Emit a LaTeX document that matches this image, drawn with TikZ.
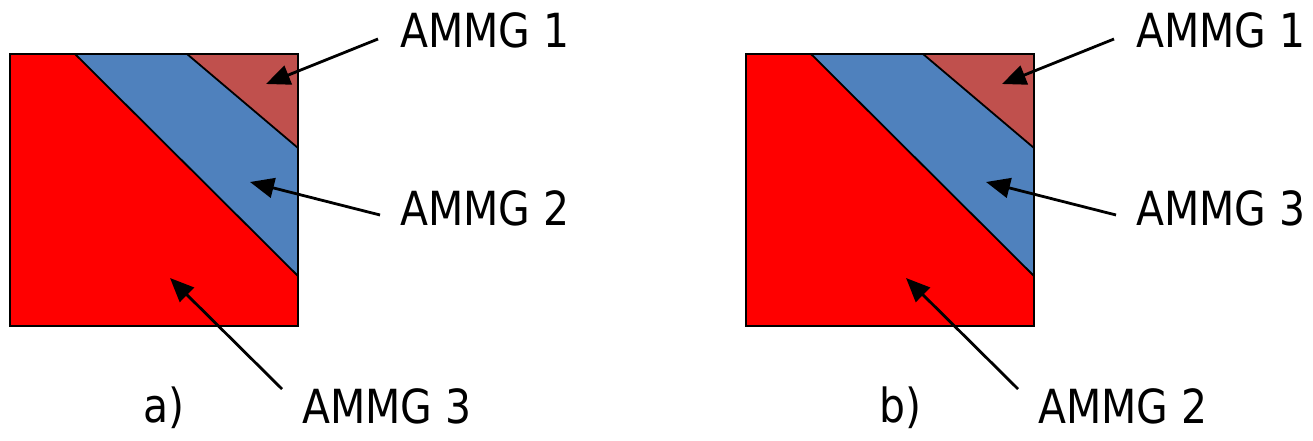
\documentclass[tikz,border=0pt]{standalone}
\usepackage{fontspec}
\setmainfont{DejaVu Sans}[FakeStretch=0.87]
\usetikzlibrary{arrows.meta}
\definecolor{ammgred}{RGB}{255,0,0}
\definecolor{ammgblue}{RGB}{79,129,189}
\definecolor{ammgbrown}{RGB}{192,80,77}
\tikzset{
  lbl/.style={anchor=base west, inner sep=0pt, font=\fontsize{47}{50}\selectfont},
  ptr/.style={line width=2.8pt, -{Triangle[length=24pt,width=20pt]}},
  edge/.style={line width=1.8pt},
}
\begin{document}
\begin{tikzpicture}[x=1pt,y=-1pt]
\useasboundingbox (0,0) rectangle (1313,441);
\foreach \dx/\nm/\ltop/\lmid/\lbot/\cap in {0/a/1/2/3/a), 736/b/1/3/2/b)} {
  \begin{scope}[xshift=\dx pt]
    \fill[ammgred] (10,54) rectangle (298,326);
    \fill[ammgblue] (75,54) -- (298,276) -- (298,148) -- (187,54) -- cycle;
    \fill[ammgbrown] (187,54) -- (298,148) -- (298,54) -- cycle;
    \draw[edge] (75,54) -- (298,276);
    \draw[edge] (187,54) -- (298,148);
    \draw[line width=2.8pt] (10,54) rectangle (298,326);
    \node[lbl] (\nm top) at (400,48) {AMMG \ltop};
    \node[lbl] (\nm mid) at (400,225) {AMMG \lmid};
    \node[lbl] (\nm bot) at (302,423) {AMMG \lbot};
    \node[lbl] (\nm cap) at (143,422) {\cap};
    \coordinate (\nm t1) at (378,39);
    \coordinate (\nm h1) at (266,84);
    \coordinate (\nm t2) at (380,215);
    \coordinate (\nm h2) at (250,182);
    \coordinate (\nm t3) at (282,389);
    \coordinate (\nm h3) at (170,278);
    \draw[ptr] (\nm t1) -- (\nm h1);
    \draw[ptr] (\nm t2) -- (\nm h2);
    \draw[ptr] (\nm t3) -- (\nm h3);
  \end{scope}
}
\end{tikzpicture}
\end{document}
